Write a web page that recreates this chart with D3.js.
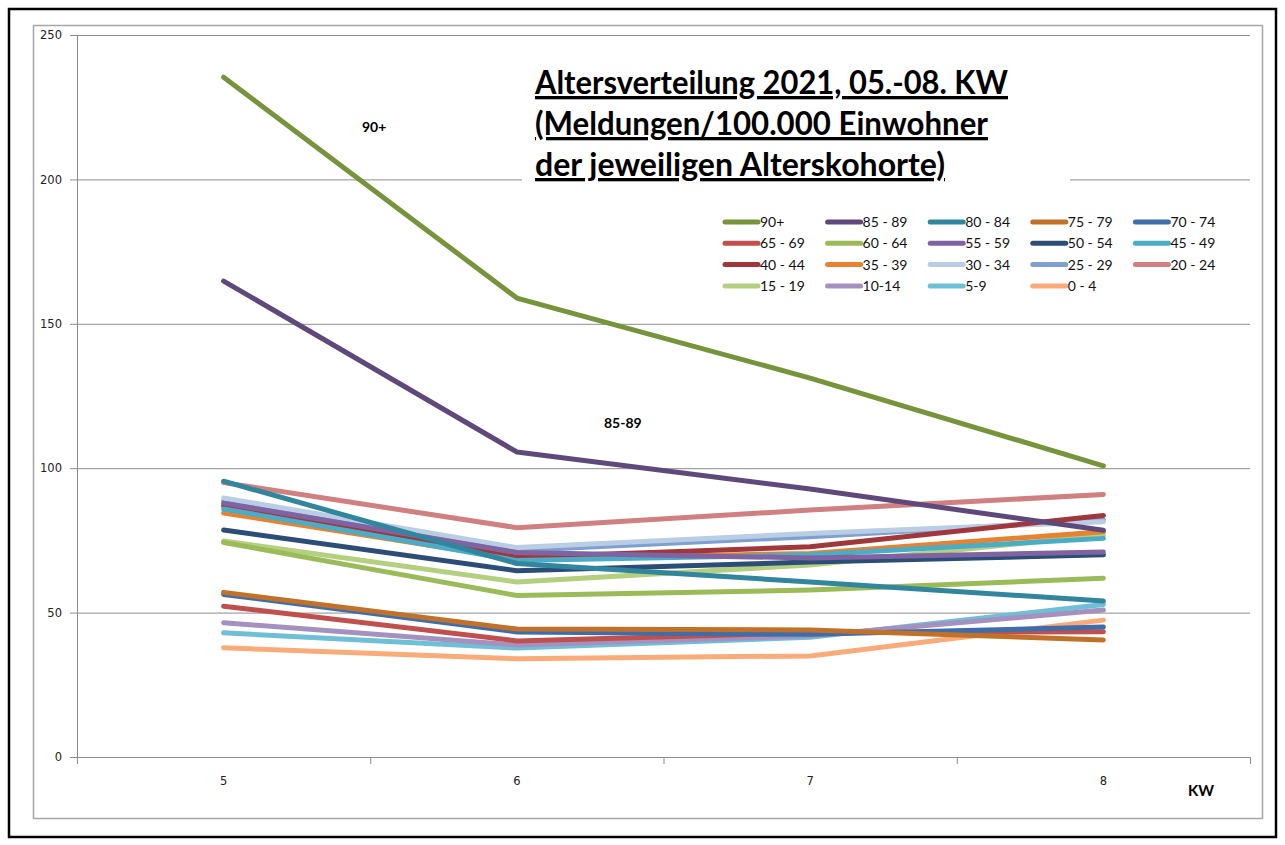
<!DOCTYPE html>
<html>
<head>
<meta charset="utf-8">
<script src="https://cdn.jsdelivr.net/npm/d3@7"></script>
<style>
  body { margin: 0; background: #fff; }
  svg { display: block; }
  .tick text { font-family: "DejaVu Sans", Arial, sans-serif; font-size: 11.5px; fill: #222; }
</style>
</head>
<body>
<script>
const weeks = [5, 6, 7, 8];
const cohorts = ["90+", "85 - 89", "80 - 84", "75 - 79", "70 - 74",
                 "65 - 69", "60 - 64", "55 - 59", "50 - 54", "45 - 49",
                 "40 - 44", "35 - 39", "30 - 34", "25 - 29", "20 - 24",
                 "15 - 19", "10-14", "5-9", "0 - 4"];
// Meldungen/100.000 je Kohorte, KW 5..8
const values = [
  [235.4, 158.9, 131.2, 100.8],
  [164.8, 105.6, 92.8, 78.5],
  [95.5, 67.0, 60.6, 54.0],
  [57.0, 44.3, 44.0, 40.5],
  [56.3, 43.3, 42.5, 45.0],
  [52.2, 40.2, 43.0, 43.4],
  [74.3, 55.9, 57.8, 61.9],
  [87.9, 70.8, 68.9, 71.0],
  [78.6, 64.5, 67.5, 70.0],
  [85.9, 68.0, 70.0, 75.7],
  [86.9, 69.2, 72.8, 83.6],
  [84.5, 68.5, 70.5, 78.0],
  [89.7, 72.5, 77.4, 81.5],
  [88.8, 71.5, 76.3, 82.1],
  [95.0, 79.4, 85.5, 90.9],
  [74.8, 60.6, 66.5, 76.9],
  [46.5, 38.8, 42.0, 50.9],
  [43.0, 37.7, 41.5, 52.8],
  [37.8, 34.0, 35.0, 47.4]
];
const colors = ["#77933c", "#5f497a", "#31859c", "#c0722b", "#3d6daa",
                "#c0504d", "#9bbb59", "#8064a2", "#2c4d75", "#4bacc6",
                "#a0373a", "#e8822f", "#b9cde5", "#7f9fd0", "#d08080",
                "#b3cf7f", "#a491c0", "#6fbfd6", "#f9ab7a"];
const yTicks = [0, 50, 100, 150, 200, 250];
const titleLines = ["Altersverteilung 2021, 05.-08. KW",
                    "(Meldungen/100.000 Einwohner",
                    "der jeweiligen Alterskohorte)"];

const width = 1285;
const height = 845;
const plotLeft = 77, plotRight = 1250, plotTop = 35, plotBottom = 757;

const svg = d3.select("body").append("svg")
    .attr("width", width)
    .attr("height", height);

// frames
svg.append("rect")
    .attr("x", 9).attr("y", 9)
    .attr("width", 1267).attr("height", 828)
    .attr("fill", "none").attr("stroke", "#000").attr("stroke-width", 2.5);
svg.append("rect")
    .attr("x", 33.5).attr("y", 25.5)
    .attr("width", 1229).attr("height", 793)
    .attr("fill", "none").attr("stroke", "#a6a6a6").attr("stroke-width", 1.5);

const x = d3.scaleBand()
    .domain(weeks)
    .range([plotLeft, plotRight]);
const y = d3.scaleLinear()
    .domain([0, 250])
    .range([plotBottom, plotTop]);
const xc = d => x(d) + x.bandwidth() / 2;

// gridlines
svg.append("g")
    .selectAll("line")
    .data(yTicks.filter(d => d > 0))
    .enter()
    .append("line")
    .attr("x1", plotLeft).attr("x2", plotRight)
    .attr("y1", d => y(d) + 0.5).attr("y2", d => y(d) + 0.5)
    .attr("stroke", "#8c8c8c").attr("stroke-width", 1);

// y axis
const yAxis = svg.append("g")
    .attr("transform", `translate(${plotLeft},0)`)
    .call(d3.axisLeft(y).tickValues(yTicks).tickSize(7).tickPadding(8));
yAxis.select(".domain").attr("stroke", "#8c8c8c");
yAxis.selectAll(".tick line").attr("stroke", "#8c8c8c");

// x axis
const xAxis = svg.append("g")
    .attr("transform", `translate(0,${plotBottom})`)
    .call(d3.axisBottom(x).tickSize(0).tickPadding(20));
xAxis.select(".domain").remove();
svg.append("line")
    .attr("x1", plotLeft).attr("x2", plotRight)
    .attr("y1", plotBottom + 0.5).attr("y2", plotBottom + 0.5)
    .attr("stroke", "#8c8c8c");
const boundaries = weeks.map(d => x(d)).concat([plotRight]);
svg.append("g")
    .selectAll("line")
    .data(boundaries)
    .enter()
    .append("line")
    .attr("x1", d => d + 0.5).attr("x2", d => d + 0.5)
    .attr("y1", plotBottom).attr("y2", plotBottom + 7)
    .attr("stroke", "#8c8c8c");

svg.append("text")
    .attr("x", 1188).attr("y", 796)
    .style("font-family", "Lato, sans-serif")
    .style("font-weight", "bold")
    .style("font-size", "15px")
    .text("KW");

// title box
svg.append("rect")
    .attr("x", 522).attr("y", 58)
    .attr("width", 548).attr("height", 128)
    .attr("fill", "#fff");
const titleWidths = [473, 453, 410];
svg.append("g")
    .selectAll("text")
    .data(titleLines)
    .enter()
    .append("text")
    .attr("x", 535)
    .attr("y", (d, i) => 94 + i * 41)
    .attr("textLength", (d, i) => titleWidths[i])
    .attr("lengthAdjust", "spacingAndGlyphs")
    .style("font-family", "Lato, sans-serif")
    .style("font-weight", "bold")
    .style("font-size", "33px")
    .style("text-decoration", "underline")
    .attr("fill", "#000")
    .text(d => d);

// lines
const line = d3.line()
    .x((d, i) => xc(weeks[i]))
    .y(d => y(d));
const order = d3.range(cohorts.length).reverse();
svg.append("g")
    .selectAll("path")
    .data(order)
    .enter()
    .append("path")
    .attr("d", i => line(values[i]))
    .attr("fill", "none")
    .attr("stroke", i => colors[i])
    .attr("stroke-width", 5)
    .attr("stroke-linecap", "round")
    .attr("stroke-linejoin", "round");

// inline labels
svg.append("text")
    .attr("x", 362).attr("y", 132)
    .style("font-family", "Lato, sans-serif")
    .style("font-weight", "bold").style("font-size", "14px")
    .text("90+");
svg.append("text")
    .attr("x", 604).attr("y", 428)
    .style("font-family", "Lato, sans-serif")
    .style("font-weight", "bold").style("font-size", "14px")
    .text("85-89");

// legend
const legend = svg.append("g")
    .attr("transform", "translate(723,222)");
const item = legend.selectAll("g")
    .data(cohorts)
    .enter()
    .append("g")
    .attr("transform", (d, i) => `translate(${(i % 5) * 102.6},${Math.floor(i / 5) * 21.3})`);
item.append("line")
    .attr("x1", 2).attr("x2", 35)
    .attr("y1", 0).attr("y2", 0)
    .attr("stroke", (d, i) => colors[i])
    .attr("stroke-width", 5)
    .attr("stroke-linecap", "round");
item.append("text")
    .attr("x", 37).attr("y", 5)
    .style("font-family", "Lato, sans-serif")
    .style("font-size", "14px")
    .attr("fill", "#111")
    .text(d => d);
</script>
</body>
</html>
